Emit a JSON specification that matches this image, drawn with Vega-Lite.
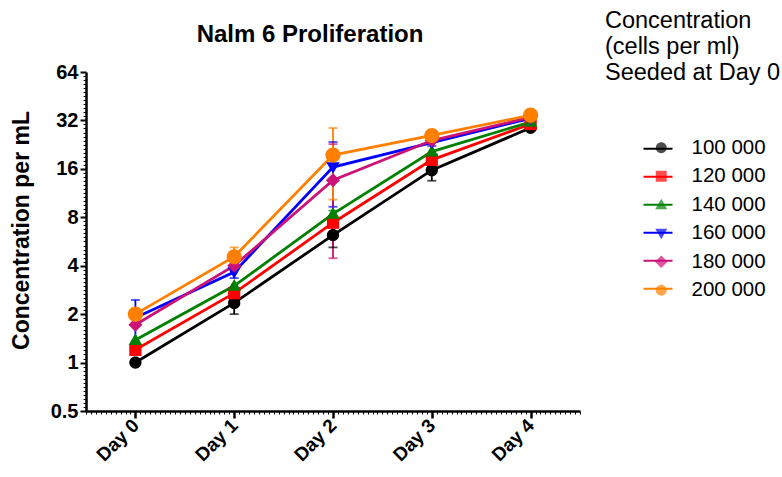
{
  "$schema": "https://vega.github.io/schema/vega-lite/v6.json",
  "width": 494,
  "height": 339,
  "autosize": {"type": "none"},
  "padding": {"left": 86, "top": 72, "right": 202, "bottom": 66},
  "background": "white",
  "config": {"view": {"stroke": null}, "font": "Liberation Sans"},
  "title": {
    "text": "Nalm 6 Proliferation",
    "font": "Liberation Sans",
    "fontSize": 24,
    "fontWeight": "bold",
    "color": "black",
    "anchor": "middle",
    "frame": "group",
    "dx": -23,
    "offset": -38
  },
  "data": {
    "values": [
      {"series": "100 000", "day": 0, "value": 1.0, "lo": null, "hi": null},
      {"series": "100 000", "day": 1, "value": 2.35, "lo": 2.0, "hi": 2.7},
      {"series": "100 000", "day": 2, "value": 6.2, "lo": 5.2, "hi": 7.2},
      {"series": "100 000", "day": 3, "value": 15.7, "lo": 13.5, "hi": 17.9},
      {"series": "100 000", "day": 4, "value": 28.8, "lo": null, "hi": null},
      {"series": "120 000", "day": 0, "value": 1.2, "lo": null, "hi": null},
      {"series": "120 000", "day": 1, "value": 2.7, "lo": 2.55, "hi": 2.85},
      {"series": "120 000", "day": 2, "value": 7.4, "lo": 7.0, "hi": 7.8},
      {"series": "120 000", "day": 3, "value": 18.2, "lo": 17.0, "hi": 19.4},
      {"series": "120 000", "day": 4, "value": 30.4, "lo": null, "hi": null},
      {"series": "140 000", "day": 0, "value": 1.38, "lo": null, "hi": null},
      {"series": "140 000", "day": 1, "value": 3.0, "lo": null, "hi": null},
      {"series": "140 000", "day": 2, "value": 8.4, "lo": 8.0, "hi": 8.8},
      {"series": "140 000", "day": 3, "value": 20.5, "lo": null, "hi": null},
      {"series": "140 000", "day": 4, "value": 31.3, "lo": null, "hi": null},
      {"series": "160 000", "day": 0, "value": 1.9, "lo": 1.35, "hi": 2.45},
      {"series": "160 000", "day": 1, "value": 3.65, "lo": 3.35, "hi": 3.95},
      {"series": "160 000", "day": 2, "value": 16.4, "lo": 9.3, "hi": 23.5},
      {"series": "160 000", "day": 3, "value": 23.3, "lo": 22.2, "hi": 24.4},
      {"series": "160 000", "day": 4, "value": 33.0, "lo": null, "hi": null},
      {"series": "180 000", "day": 0, "value": 1.72, "lo": null, "hi": null},
      {"series": "180 000", "day": 1, "value": 4.0, "lo": null, "hi": null},
      {"series": "180 000", "day": 2, "value": 13.6, "lo": 4.45, "hi": 22.8},
      {"series": "180 000", "day": 3, "value": 24.0, "lo": null, "hi": null},
      {"series": "180 000", "day": 4, "value": 33.5, "lo": null, "hi": null},
      {"series": "200 000", "day": 0, "value": 2.0, "lo": null, "hi": null},
      {"series": "200 000", "day": 1, "value": 4.55, "lo": 3.9, "hi": 5.2},
      {"series": "200 000", "day": 2, "value": 19.5, "lo": 10.3, "hi": 28.7},
      {"series": "200 000", "day": 3, "value": 25.8, "lo": null, "hi": null},
      {"series": "200 000", "day": 4, "value": 34.5, "lo": null, "hi": null}
    ]
  },
  "layer": [
    {
      "mark": {"type": "line", "strokeWidth": 2.8},
      "encoding": {
        "x": {
          "field": "day", "type": "quantitative",
          "scale": {"domain": [-0.5, 4.5], "nice": false, "zero": false},
          "axis": {
            "title": null,
            "grid": false,
            "tickCount": 100,
            "labelExpr": "abs(datum.value - round(datum.value)) < 0.001 ? 'Day ' + round(datum.value) : ''",
            "tickSize": {"condition": {"test": "abs(datum.value - round(datum.value)) < 0.001", "value": 7}, "value": 3},
            "tickWidth": {"condition": {"test": "abs(datum.value - round(datum.value)) < 0.001", "value": 2.5}, "value": 1},
            "tickColor": "black",
            "domainColor": "black",
            "domainWidth": 2.5,
            "labelAngle": -45,
            "labelAlign": "right",
            "labelBaseline": "middle",
            "labelFont": "Liberation Sans",
            "labelFontWeight": "bold",
            "labelFontSize": 19,
            "labelColor": "black",
            "labelPadding": 4,
            "labelOverlap": false,
            "labelFlush": false,
            "labelBound": false
          }
        },
        "y": {
          "field": "value", "type": "quantitative",
          "title": "Concentration per mL",
          "scale": {"type": "log", "base": 2, "domain": [0.5, 64], "nice": false},
          "axis": {
            "grid": false,
            "format": "~g",
            "values": [0.5,0.5297,0.5612,0.5946,0.63,0.6674,0.7071,0.7492,0.7937,0.8409,0.8909,0.9439,
                       1,1.0595,1.1225,1.1892,1.2599,1.3348,1.4142,1.4983,1.5874,1.6818,1.7818,1.8877,
                       2,2.119,2.245,2.3784,2.5198,2.6697,2.8284,2.9966,3.1748,3.3636,3.5636,3.7755,
                       4,4.238,4.49,4.7568,5.0397,5.3394,5.6569,5.9932,6.3496,6.7272,7.1272,7.5509,
                       8,8.476,8.98,9.5137,10.0794,10.6787,11.3137,11.9865,12.6992,13.4543,14.2544,15.1018,
                       16,16.952,17.96,19.0273,20.1587,21.3574,22.6274,23.9729,25.3984,26.9087,28.5088,30.2035,
                       32,33.904,35.92,38.0546,40.3175,42.7148,45.2548,47.9459,50.7968,53.8174,57.0175,60.4071,64],
            "labelExpr": "abs(log(datum.value)/LN2 - round(log(datum.value)/LN2)) < 0.01 ? datum.label : ''",
            "tickSize": {"condition": {"test": "abs(log(datum.value)/LN2 - round(log(datum.value)/LN2)) < 0.01", "value": 6}, "value": 3},
            "tickWidth": {"condition": {"test": "abs(log(datum.value)/LN2 - round(log(datum.value)/LN2)) < 0.01", "value": 2}, "value": 1},
            "tickColor": "black",
            "domainColor": "black",
            "domainWidth": 2.5,
            "labelFont": "Liberation Sans",
            "labelFontWeight": "bold",
            "labelFontSize": 20,
            "labelColor": "black",
            "labelPadding": 2,
            "labelOverlap": false,
            "labelFlush": false,
            "labelBound": false,
            "titleFont": "Liberation Sans",
            "titleFontWeight": "bold",
            "titleFontSize": 23,
            "titleColor": "black",
            "titleAngle": 270,
            "titleAlign": "center",
            "titleBaseline": "alphabetic",
            "titleX": -58,
            "titleY": 158
          }
        },
        "stroke": {
          "field": "series", "type": "nominal",
          "scale": {"range": ["#000000", "#FF0000", "#008000", "#0000FF", "#CC1177", "#FF8000"]},
          "legend": {
            "title": ["Concentration", "(cells per ml)", "Seeded at Day 0"],
            "orient": "none",
            "legendX": 519,
            "legendY": -63,
            "zindex": 0,
            "padding": 0,
            "titleFont": "Liberation Sans",
            "titleFontSize": 23.5,
            "titleFontWeight": "normal",
            "titleLineHeight": 26,
            "titleColor": "black",
            "titleOpacity": 0,
            "titlePadding": 48.75,
            "labelFont": "Liberation Sans",
            "labelFontSize": 20.5,
            "labelOpacity": 0,
            "labelOffset": 20,
            "symbolType": "stroke",
            "symbolSize": 841,
            "symbolStrokeWidth": 2,
            "symbolOffset": 37.5,
            "rowPadding": 2
          }
        }
      }
    },
    {
      "mark": {"type": "rule", "strokeWidth": 1.8},
      "encoding": {
        "x": {"field": "day", "type": "quantitative"},
        "y": {"field": "lo", "type": "quantitative", "title": "Concentration per mL"},
        "y2": {"field": "hi"},
        "stroke": {"field": "series", "type": "nominal"}
      }
    },
    {
      "mark": {"type": "tick", "orient": "horizontal", "size": 9, "thickness": 1.8},
      "encoding": {
        "x": {"field": "day", "type": "quantitative"},
        "y": {"field": "lo", "type": "quantitative", "title": "Concentration per mL"},
        "color": {"field": "series", "type": "nominal"}
      }
    },
    {
      "mark": {"type": "tick", "orient": "horizontal", "size": 9, "thickness": 1.8},
      "encoding": {
        "x": {"field": "day", "type": "quantitative"},
        "y": {"field": "hi", "type": "quantitative", "title": "Concentration per mL"},
        "color": {"field": "series", "type": "nominal"}
      }
    },
    {
      "mark": {"type": "point", "filled": true, "opacity": 1},
      "encoding": {
        "x": {"field": "day", "type": "quantitative"},
        "y": {"field": "value", "type": "quantitative", "title": "Concentration per mL"},
        "size": {"condition": {"test": "datum.series == '200 000'", "value": 230}, "value": 150},
        "color": {
          "field": "series", "type": "nominal",
          "scale": {"domain": ["100 000", "120 000", "140 000", "160 000", "180 000", "200 000"],
                    "range": ["#000000", "#FF0000", "#008000", "#0000FF", "#CC1177", "#FF8000"]},
          "legend": {
            "title": ["Concentration", "(cells per ml)", "Seeded at Day 0"],
            "orient": "none",
            "legendX": 519,
            "legendY": -63,
            "zindex": 1,
            "padding": 0,
            "titleFont": "Liberation Sans",
            "titleFontSize": 23.5,
            "titleFontWeight": "normal",
            "titleLineHeight": 26,
            "titleColor": "black",
            "titlePadding": 53,
            "labelFont": "Liberation Sans",
            "labelFontSize": 20.5,
            "labelColor": "black",
            "labelOffset": 20,
            "symbolSize": 120,
            "symbolOpacity": 1,
            "symbolOffset": 46,
            "rowPadding": 7.5
          }
        },
        "shape": {
          "field": "series", "type": "nominal",
          "scale": {"domain": ["100 000", "120 000", "140 000", "160 000", "180 000", "200 000"],
                    "range": ["M-1,0A1,1 0 1,0 1,0A1,1 0 1,0 -1,0Z",
                              "M-1,-1H1V1H-1Z",
                              "M0,-1.1L1.1,0.8H-1.1Z",
                              "M0,1.1L1.1,-0.8H-1.1Z",
                              "M0,-1.15L1.15,0L0,1.15L-1.15,0Z",
                              "M-1,0A1,1 0 1,0 1,0A1,1 0 1,0 -1,0Z"]}
        }
      }
    }
  ]
}
